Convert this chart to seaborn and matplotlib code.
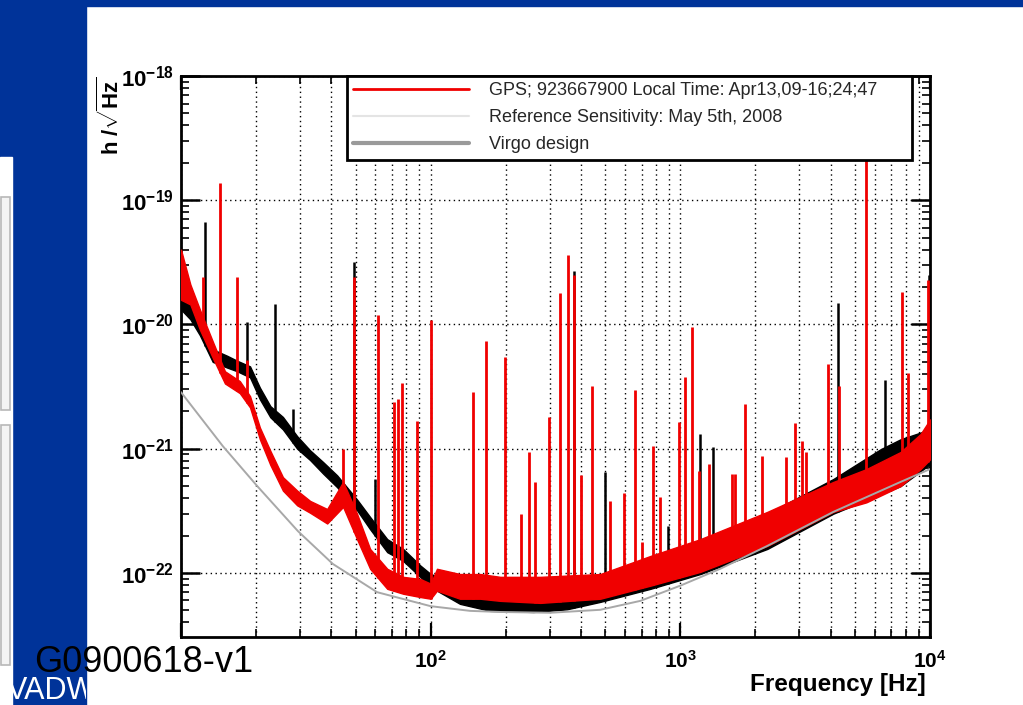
import numpy as np
import matplotlib
matplotlib.use("Agg")
import matplotlib.pyplot as plt
import seaborn as sns
from matplotlib.patches import Rectangle
from matplotlib.lines import Line2D
from matplotlib.ticker import FixedLocator, FuncFormatter, NullFormatter

sns.set_style("ticks")
plt.rcParams["font.family"] = ["Liberation Sans", "DejaVu Sans"]
plt.rcParams["mathtext.fontset"] = "custom"
plt.rcParams["mathtext.rm"] = "Liberation Sans"
plt.rcParams["mathtext.bf"] = "Liberation Sans:bold"
plt.rcParams["mathtext.it"] = "Liberation Sans:italic"

# ---------------- data ----------------
legend_labels = ["GPS; 923667900 Local Time: Apr13,09-16;24;47",
                 "Reference Sensitivity: May 5th, 2008",
                 "Virgo design"]

# current spectrum (red): noise band envelope
red_freq = [10, 10.9, 11.9, 13.4, 15.0, 17.2, 18.9, 20.7, 22.8, 25.6, 29.2, 32.9, 38.5, 44.6,
            50.7, 57.2, 67, 77.6, 90.8, 100, 106, 131, 158, 190, 275, 478, 759, 1202, 2230,
            4100, 5560, 7620, 9160, 10000]
red_hi = [4.0e-20, 2.1e-20, 1.32e-20, 7.3e-21, 4.2e-21, 3.5e-21, 2.65e-21, 1.48e-21, 9.6e-22,
          5.9e-22, 4.6e-22, 3.8e-22, 3.27e-22, 5.4e-22, 3.0e-22, 1.56e-22, 1.08e-22, 9.3e-23,
          8.95e-23, 8.2e-23, 1.08e-22, 9.8e-23, 9.8e-23, 9.3e-23, 9.3e-23, 9.8e-23, 1.37e-22,
          1.87e-22, 3.1e-22, 5.4e-22, 6.85e-22, 9.4e-22, 1.31e-21, 1.72e-21]
red_lo = [1.58e-20, 1.45e-20, 9.1e-21, 5.4e-21, 3.35e-21, 2.8e-21, 2.15e-21, 1.19e-21, 7.4e-22,
          4.6e-22, 3.5e-22, 3.05e-22, 2.5e-22, 3.4e-22, 1.87e-22, 1.08e-22, 7.45e-23, 6.8e-23,
          6.4e-23, 6.2e-23, 7.2e-23, 6.2e-23, 6.2e-23, 5.96e-23, 5.74e-23, 6.2e-23, 7.9e-23,
          1.02e-22, 1.65e-22, 3.1e-22, 3.7e-22, 5.0e-22, 6.85e-22, 8.2e-22]
# current spectrum (red): lines
red_spike_f = [12.2, 14.3, 16.8, 18.4, 44.6, 49.3, 61.6, 71.5, 74.2, 76.9, 88.3, 100, 148, 167,
               199, 229, 248, 262, 299, 330, 356, 376, 401, 444, 524, 597, 660, 705, 780, 832,
               991, 1047, 1117, 1191, 1306, 1614, 1660, 1820, 2130, 2640, 2890, 3080, 3200,
               3920, 4330, 5560, 7690, 8130, 9780]
red_spike_h = [2.4e-20, 1.38e-19, 2.43e-20, 5.2e-21, 9.9e-22, 2.4e-20, 1.2e-20, 2.36e-21, 2.5e-21,
               3.4e-21, 1.66e-21, 1.08e-20, 2.85e-21, 7.3e-21, 5.5e-21, 3.0e-22, 9.4e-22, 5.4e-22,
               1.79e-21, 1.8e-20, 3.6e-20, 2.5e-20, 6.1e-22, 3.2e-21, 3.8e-22, 4.4e-22, 2.95e-21,
               1.78e-22, 1.05e-21, 4.1e-22, 1.63e-21, 3.75e-21, 9.5e-21, 6.6e-22, 7.5e-22,
               6.2e-22, 6.2e-22, 2.28e-21, 8.7e-22, 8.55e-22, 1.6e-21, 1.15e-21, 9.4e-22, 4.8e-21,
               3.2e-21, 2.55e-19, 1.84e-20, 4.1e-21, 2.3e-20]

# reference sensitivity (black): noise band envelope
black_freq = [10, 10.9, 11.9, 13.4, 15.3, 16.8, 18.9, 20.7, 22.8, 25.6, 29.2, 32.9, 37.1, 42.2,
              50.7, 57.2, 67, 77.6, 90.8, 100, 131, 173, 258, 352, 478, 759, 1202, 2230, 4100,
              6340, 7620, 10000]
black_hi = [1.91e-20, 1.58e-20, 1.05e-20, 6.3e-21, 5.6e-21, 5.1e-21, 4.6e-21, 3.1e-21, 2.2e-21,
            1.8e-21, 1.26e-21, 9.7e-22, 7.8e-22, 6.1e-22, 3.9e-22, 2.82e-22, 1.87e-22, 1.56e-22,
            1.15e-22, 9.8e-23, 8.2e-23, 6.8e-23, 6.8e-23, 7.2e-23, 8.2e-23, 1.18e-22, 1.7e-22,
            3.0e-22, 5.7e-22, 9.9e-22, 1.19e-21, 1.43e-21]
black_lo = [1.32e-20, 1.1e-20, 8.2e-21, 5.0e-21, 4.5e-21, 4.2e-21, 3.75e-21, 2.5e-21, 1.79e-21,
            1.43e-21, 1.0e-21, 8.1e-22, 6.3e-22, 4.9e-22, 3.2e-22, 2.25e-22, 1.47e-22, 1.25e-22,
            9.3e-23, 7.7e-23, 5.64e-23, 4.95e-23, 4.85e-23, 5.1e-23, 5.85e-23, 7.45e-23,
            9.8e-23, 1.56e-22, 3.0e-22, 4.3e-22, 5.0e-22, 7.5e-22]
black_spike_f = [12.5, 18.4, 23.8, 28.1, 49.3, 60, 376, 500, 895, 1202, 1355, 4300, 6630, 9900]
black_spike_h = [6.7e-20, 1.04e-20, 1.45e-20, 2.07e-21, 3.2e-20, 5.7e-22, 2.67e-20, 6.5e-22,
                 2.4e-22, 1.31e-21, 1.03e-21, 1.5e-20, 3.6e-21, 2.5e-20]

# Virgo design curve (gray)
design_freq = [10, 14.7, 20.2, 29.4, 40.6, 61, 100, 144, 190, 301, 478, 692, 1000, 1445, 2230,
               4100, 7620, 10000]
design_h = [2.85e-21, 1.05e-21, 5.0e-22, 2.17e-22, 1.18e-22, 7.0e-23, 5.4e-23, 4.95e-23,
            4.85e-23, 4.78e-23, 5.05e-23, 5.96e-23, 7.9e-23, 1.08e-22, 1.65e-22, 3.1e-22,
            5.4e-22, 6.85e-22]

x_tick_vals = [10, 100, 1000, 10000]
y_tick_vals = [1e-22, 1e-21, 1e-20, 1e-19, 1e-18]

# ---------------- figure ----------------
W, H = 1023, 705
fig = plt.figure(figsize=(W / 100, H / 100), dpi=100)
fig.patch.set_facecolor("white")
BLUE = "#003399"


def fx(px):
    return px / W


def fy(py):
    return 1 - py / H


# slide decorations
fig.add_artist(Rectangle((0, fy(6)), 1, 6 / H, transform=fig.transFigure, color=BLUE, zorder=0))
blue_col = Rectangle((0, 0), fx(86), 1, transform=fig.transFigure, color=BLUE, zorder=0)
fig.add_artist(blue_col)
fig.add_artist(Rectangle((0, 0), fx(12), fy(157), transform=fig.transFigure,
                         color="white", zorder=0.5))
for (y0, y1) in [(197, 410), (425, 665)]:
    fig.add_artist(Rectangle((fx(1), fy(y1)), fx(9), (y1 - y0) / H, transform=fig.transFigure,
                             facecolor="#f4f4f4", edgecolor="#b8b8b8", lw=1.2, zorder=0.6))

ax = fig.add_axes([fx(181), fy(637), (930 - 181) / W, (637 - 76) / H])
ax.set_xscale("log")
ax.set_yscale("log")
ax.set_xlim(10, 10000)
ax.set_ylim(3.05e-23, 1e-18)
ax.set_axisbelow(True)

RED = "#f00000"


def spike_base(f_sp, f_band, lo_band):
    return 10 ** np.interp(np.log10(f_sp), np.log10(f_band), np.log10(lo_band))


# reference (black)
ax.fill_between(black_freq, black_lo, black_hi, color="black", lw=1.0, zorder=2)
ax.vlines(black_spike_f, spike_base(black_spike_f, black_freq, black_lo), black_spike_h,
          color="black", lw=1.8, zorder=2.1)
# current (red)
ax.fill_between(red_freq, red_lo, red_hi, color=RED, lw=1.0, zorder=3)
ax.vlines(red_spike_f, spike_base(red_spike_f, red_freq, red_lo), red_spike_h,
          color=RED, lw=2.0, zorder=3.1)
# design
sns.lineplot(x=design_freq, y=design_h, ax=ax, color="#a8a8a8", lw=1.4, zorder=4,
             estimator=None, sort=False)

# grid
ax.grid(which="major", axis="both", color="black", ls=(0, (1, 2.5)), lw=1.0)
ax.grid(which="minor", axis="x", color="black", ls=(0, (1, 2.5)), lw=1.0)

# ticks
ax.xaxis.set_major_locator(FixedLocator(x_tick_vals))
ax.yaxis.set_major_locator(FixedLocator(y_tick_vals))
ax.xaxis.set_minor_locator(FixedLocator([m * d for d in [10, 100, 1000] for m in range(2, 10)]))
ax.yaxis.set_minor_locator(FixedLocator([m * d for d in [1e-23, 1e-22, 1e-21, 1e-20, 1e-19]
                                         for m in range(2, 10)]))


def logfmt(v, pos):
    e = int(round(np.log10(v)))
    if e == 1:
        return ""
    return r"$\mathbf{10^{%d}}$" % e


ax.xaxis.set_major_formatter(FuncFormatter(logfmt))
ax.yaxis.set_major_formatter(FuncFormatter(logfmt))
ax.xaxis.set_minor_formatter(NullFormatter())
ax.yaxis.set_minor_formatter(NullFormatter())
ax.tick_params(axis="both", which="both", direction="in", top=True, right=True, colors="black")
ax.tick_params(axis="y", which="major", length=14, width=1.8, labelsize=16, pad=5)
ax.tick_params(axis="y", which="minor", length=6, width=1.2)
ax.tick_params(axis="x", which="major", length=10, width=1.6, labelsize=15, pad=9)
ax.tick_params(axis="x", which="minor", length=6, width=1.2)
for s in ax.spines.values():
    s.set_color("black")
    s.set_linewidth(2.0)
ax.set_xlabel("")
ax.set_ylabel("")

# legend
handles = [Line2D([], [], color=RED, lw=2.0),
           Line2D([], [], color="#e4e4e4", lw=1.5),
           Line2D([], [], color="#9a9a9a", lw=3.0)]
leg = ax.legend(handles, legend_labels, loc="upper left",
                bbox_to_anchor=((347 - 181) / 749, 1.0, (912 - 347) / 749, 0.0),
                mode="expand", borderaxespad=0, fontsize=13, handlelength=6.4,
                handletextpad=1.1, labelspacing=0.55, borderpad=0.35, fancybox=False,
                framealpha=1, edgecolor="black")
leg.get_frame().set_linewidth(2.0)
leg.set_zorder(10)

# axis titles
fig.text(fx(111), fy(76), r"h /$\mathbf{\sqrt{Hz}}$", rotation=90, ha="center", va="top",
         fontsize=16, fontweight="bold", color="black")
fig.text(fx(926), fy(684), "Frequency [Hz]", ha="right", va="center", fontsize=17.5,
         fontweight="bold", color="black")

# slide texts
fig.text(fx(34), fy(672), "G0900618-v1", ha="left", va="baseline", fontsize=26, color="black",
         zorder=5)
t = fig.text(fx(7), fy(699), "VADW", ha="left", va="baseline", fontsize=22, color="white",
             zorder=5)
t.set_clip_path(blue_col)

fig.savefig("out.png", dpi=100)
